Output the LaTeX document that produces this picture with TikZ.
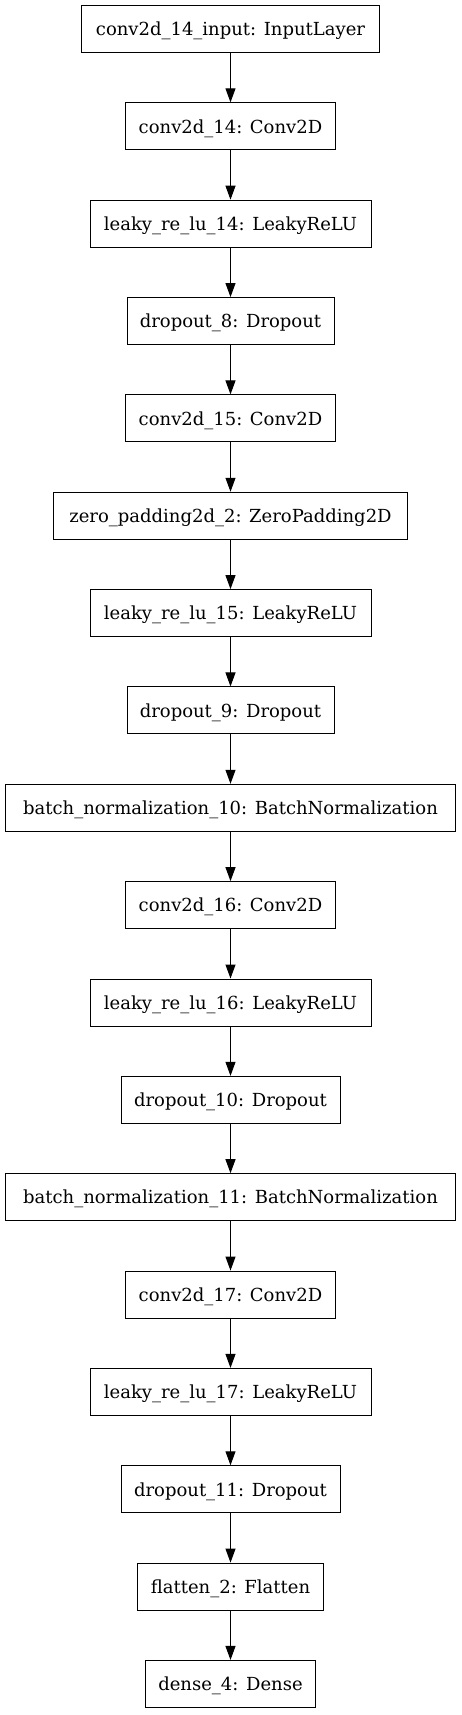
\documentclass[tikz,border=0pt]{standalone}
\usepackage{fontspec}
\setmainfont{DejaVu Serif}
\usetikzlibrary{arrows.meta}
\definecolor{netInk}{HTML}{000000}
\tikzset{
  net layer/.style={draw=netInk, line width=1pt, fill=white, minimum height=47pt,
    inner sep=0pt, text height=15.5pt, text depth=2pt,
    font=\fontsize{18}{21}\selectfont, text=netInk},
  net arrow/.style={draw=netInk, line width=1pt, -{Triangle[length=14pt, width=10pt]}},
}

\begin{document}
\begin{tikzpicture}[x=1pt, y=-1pt]
  \useasboundingbox (0,0) rectangle (461,1715);
  % Layer boxes, one row each, top to bottom
  \foreach \i/\w/\txt in {
      0/299/conv2d\_14\_input: InputLayer,
      1/211/conv2d\_14: Conv2D,
      2/282/leaky\_re\_lu\_14: LeakyReLU,
      3/208/dropout\_8: Dropout,
      4/211/conv2d\_15: Conv2D,
      5/355/zero\_padding2d\_2: ZeroPadding2D,
      6/282/leaky\_re\_lu\_15: LeakyReLU,
      7/208/dropout\_9: Dropout,
      8/451/batch\_normalization\_10: BatchNormalization,
      9/211/conv2d\_16: Conv2D,
      10/282/leaky\_re\_lu\_16: LeakyReLU,
      11/220/dropout\_10: Dropout,
      12/451/batch\_normalization\_11: BatchNormalization,
      13/211/conv2d\_17: Conv2D,
      14/282/leaky\_re\_lu\_17: LeakyReLU,
      15/220/dropout\_11: Dropout,
      16/187/flatten\_2: Flatten,
      17/171/dense\_4: Dense} {
    \node[net layer, minimum width=\w pt-1pt] (L\i) at (230.5, 29+97.35*\i) {\txt};
  }
  % Connections between consecutive layers
  \foreach \i [count=\j from 1] in {0,...,16} {
    \draw[net arrow] (L\i) -- (L\j);
  }
\end{tikzpicture}
\end{document}
